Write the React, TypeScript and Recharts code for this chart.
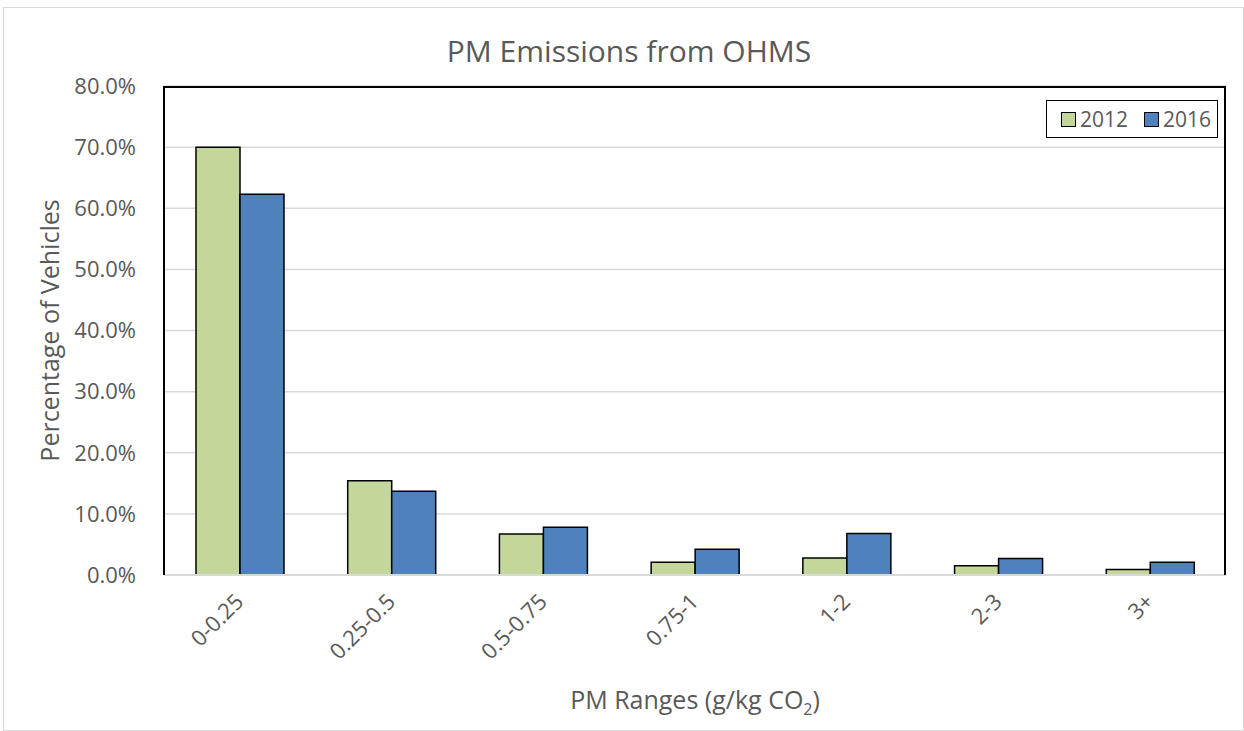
import React from "react";
import { Bar, BarChart, CartesianGrid, XAxis, YAxis } from "recharts";

const ranges = ["0-0.25", "0.25-0.5", "0.5-0.75", "0.75-1", "1-2", "2-3", "3+"];
const share2012 = [70.0, 15.4, 6.7, 2.1, 2.8, 1.5, 0.9];
const share2016 = [62.3, 13.7, 7.8, 4.2, 6.8, 2.7, 2.1];
const yTicks = [0, 10, 20, 30, 40, 50, 60, 70, 80];

const data = ranges.map((range, i) => ({
  range,
  y2012: share2012[i],
  y2016: share2016[i]
}));

const FONT = "'Open Sans', 'Noto Sans', sans-serif";
const GREY_TEXT = "#595959";

// plot area inside the framed container
const PLOT = { left: 160, top: 78, width: 1062, height: 489 };

function RotatedTick(props: any) {
  const { x, y, payload } = props;
  const tx = x + 5;
  const ty = y + 20;
  return (
    <text
      x={tx}
      y={ty}
      transform={`rotate(-45, ${tx}, ${ty})`}
      textAnchor="end"
      fill={GREY_TEXT}
      fontSize={22}
      fontFamily={FONT}
    >
      {payload.value}
    </text>
  );
}

function LegendBox() {
  const item = (color: string, label: string) => (
    <span style={{ display: "inline-flex", alignItems: "center" }}>
      <span
        style={{
          width: 15,
          height: 15,
          background: color,
          border: "1.5px solid #000",
          marginRight: 4,
          boxSizing: "border-box"
        }}
      />
      <span>{label}</span>
    </span>
  );
  return (
    <div
      style={{
        position: "absolute",
        top: 92,
        right: 25,
        border: "1.5px solid #000",
        background: "#fff",
        padding: "4px 6px 4px 14px",
        fontFamily: FONT,
        fontSize: 21,
        color: GREY_TEXT,
        display: "inline-flex",
        gap: 16
      }}
    >
      {item("#C4D79B", "2012")}
      {item("#4F81BD", "2016")}
    </div>
  );
}

export default function App() {
  return (
    <div
      style={{
        position: "absolute",
        left: 3,
        top: 7,
        width: 1241,
        height: 724,
        border: "1px solid #d9d9d9",
        boxSizing: "border-box",
        background: "#fff"
      }}
    >
      <div
        style={{
          position: "absolute",
          top: 22,
          left: 0,
          width: 1250,
          textAlign: "center",
          fontFamily: FONT,
          fontSize: 30,
          color: GREY_TEXT
        }}
      >
        PM Emissions from OHMS
      </div>
      <div
        style={{
          position: "absolute",
          top: 674,
          left: PLOT.left,
          width: PLOT.width,
          textAlign: "center",
          fontFamily: FONT,
          fontSize: 25,
          color: GREY_TEXT
        }}
      >
        PM Ranges (g/kg CO<sub style={{ fontSize: 16 }}>2</sub>)
      </div>
      <BarChart
        width={1239}
        height={722}
        data={data}
        margin={{ top: PLOT.top, right: 1239 - PLOT.left - PLOT.width, left: 0, bottom: 0 }}
        barCategoryGap={32}
        barGap={0}
        style={{ position: "absolute", left: 0, top: 0 }}
      >
        <CartesianGrid vertical={false} stroke="#d9d9d9" strokeWidth={1.5} />
        <XAxis
          dataKey="range"
          height={722 - PLOT.top - PLOT.height}
          interval={0}
          tickLine={false}
          axisLine={{ stroke: "#d9d9d9", strokeWidth: 2 }}
          tick={<RotatedTick />}
        />
        <YAxis
          width={PLOT.left}
          domain={[0, 80]}
          ticks={yTicks}
          interval={0}
          tickLine={false}
          axisLine={{ stroke: "#000", strokeWidth: 2 }}
          tickMargin={22}
          tick={{ fill: GREY_TEXT, fontSize: 22, fontFamily: FONT }}
          tickFormatter={(v: number) => `${v.toFixed(1)}%`}
          label={{
            value: "Percentage of Vehicles",
            angle: -90,
            position: "insideLeft",
            offset: 46,
            style: { textAnchor: "middle", fill: GREY_TEXT, fontSize: 25, fontFamily: FONT }
          }}
        />
        <Bar dataKey="y2012" name="2012" fill="#C4D79B" stroke="#000" strokeWidth={1.5} isAnimationActive={false} />
        <Bar dataKey="y2016" name="2016" fill="#4F81BD" stroke="#000" strokeWidth={1.5} isAnimationActive={false} />
      </BarChart>
      <div
        style={{
          position: "absolute",
          left: PLOT.left,
          top: PLOT.top,
          width: PLOT.width,
          height: PLOT.height,
          borderTop: "2px solid #000",
          borderRight: "2px solid #000",
          boxSizing: "border-box",
          pointerEvents: "none"
        }}
      />
      <LegendBox />
    </div>
  );
}
